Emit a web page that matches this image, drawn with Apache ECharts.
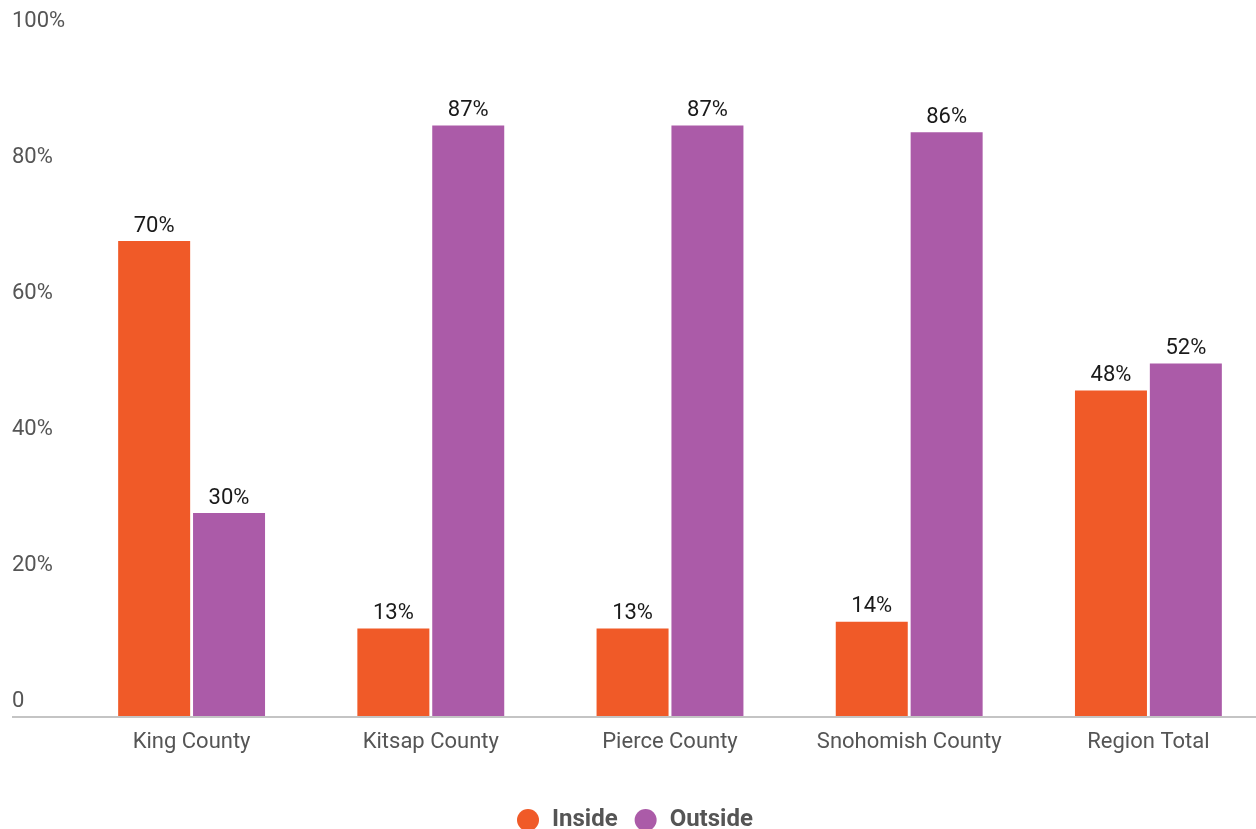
<!DOCTYPE html>
<html><head><meta charset="utf-8">
<script src="https://cdn.jsdelivr.net/npm/echarts@6/dist/echarts.min.js"></script>
<style>html,body{margin:0;padding:0;background:#fff}#c{width:1256px;height:829px}</style>
</head><body><div id="c"></div>
<script>
const categories = ['King County', 'Kitsap County', 'Pierce County', 'Snohomish County', 'Region Total'];
const insideValues = [70, 13, 13, 14, 48];
const outsideValues = [30, 87, 87, 86, 52];
const yTicks = [0, 20, 40, 60, 80, 100];

const chart = echarts.init(document.getElementById('c'), null, {renderer: 'canvas'});
const font = 'Roboto, "Liberation Sans", sans-serif';
const labelCfg = {show: true, position: 'top', distance: 4, color: '#1a1a1a', fontSize: 22, fontFamily: font, formatter: p => p.value + '%'};
chart.setOption({
  animation: false,
  grid: {left: 72, width: 1196, top: 37, bottom: 112, containLabel: false, outerBoundsMode: 'none'},
  legend: {
    data: ['Inside', 'Outside'], left: 512, top: 803, icon: 'circle', itemWidth: 22, itemHeight: 22, itemGap: 17,
    textStyle: {fontFamily: font, fontWeight: 'bold', fontSize: 24, color: '#555', padding: [0, 0, 0, 8]}
  },
  xAxis: {
    type: 'category', data: categories,
    axisLine: {show: false}, axisTick: {show: false},
    axisLabel: {color: '#555', fontSize: 22, fontFamily: font, margin: 14, interval: 0}
  },
  yAxis: {
    type: 'value', min: yTicks[0], max: yTicks[yTicks.length - 1], interval: 20,
    splitLine: {show: false}, axisLine: {show: false}, axisTick: {show: false},
    axisLabel: {
      color: '#555', fontSize: 22, fontFamily: font, align: 'left', margin: 60,
      verticalAlign: 'bottom', padding: [0, 0, 5, 0],
      formatter: v => v === 0 ? '0' : v + '%'
    }
  },
  series: [
    {name: 'Inside', type: 'bar', data: insideValues, barWidth: 72, barGap: '4%', itemStyle: {color: '#F05A28'}, label: labelCfg},
    {name: 'Outside', type: 'bar', data: outsideValues, barWidth: 72, barGap: '4%', itemStyle: {color: '#AB5BA8'}, label: labelCfg}
  ]
});
const y0 = chart.convertToPixel({yAxisIndex: 0}, 0);
chart.setOption({
  graphic: [{type: 'line', shape: {x1: 12, y1: y0, x2: 1256, y2: y0}, style: {stroke: '#c4c4c4', lineWidth: 2}, z: 10}]
});
</script></body></html>
